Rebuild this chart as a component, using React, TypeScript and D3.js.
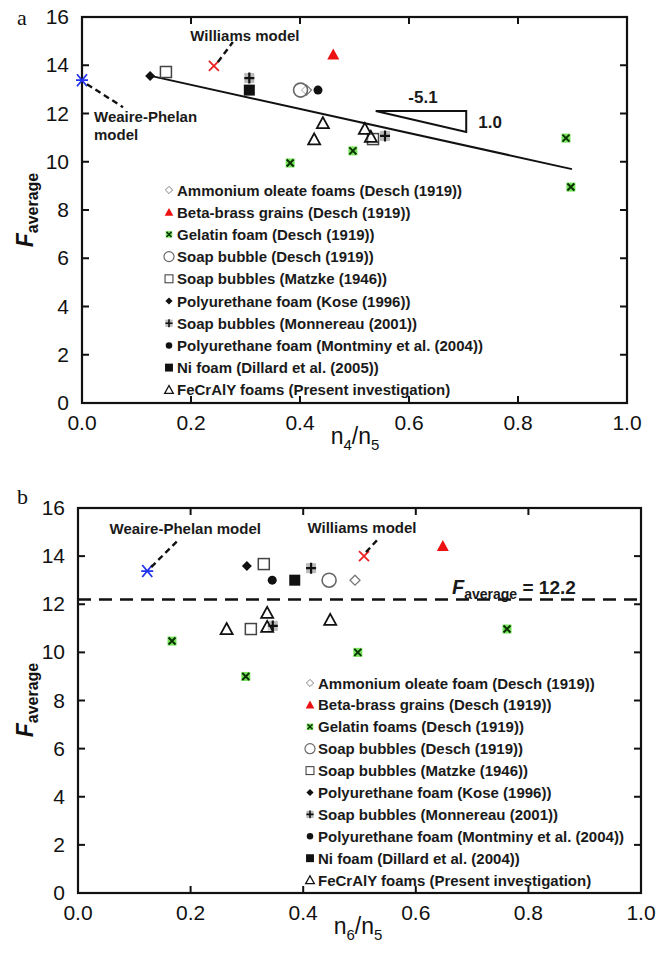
import React from "react";
import * as d3 from "d3";

// ---------- data ----------
const xTicks = [0, 0.2, 0.4, 0.6, 0.8, 1.0];
const yTicks = [0, 2, 4, 6, 8, 10, 12, 14, 16];

const legendA = [
  "Ammonium oleate foams (Desch (1919))",
  "Beta-brass grains (Desch (1919))",
  "Gelatin foam (Desch (1919))",
  "Soap bubble (Desch (1919))",
  "Soap bubbles (Matzke (1946))",
  "Polyurethane foam (Kose (1996))",
  "Soap bubbles (Monnereau (2001))",
  "Polyurethane foam (Montminy et al. (2004))",
  "Ni foam (Dillard et al. (2005))",
  "FeCrAlY foams (Present investigation)",
];
const legendB = [
  "Ammonium oleate foam (Desch (1919))",
  "Beta-brass grains (Desch (1919))",
  "Gelatin foams (Desch (1919))",
  "Soap bubbles (Desch (1919))",
  "Soap bubbles (Matzke (1946))",
  "Polyurethane foam (Kose (1996))",
  "Soap bubbles (Monnereau (2001))",
  "Polyurethane foam (Montminy et al. (2004))",
  "Ni foam (Dillard et al. (2004))",
  "FeCrAlY foams (Present investigation)",
];
const seriesKeys = ["ammonium", "beta", "gelatin", "soapDesch", "matzke", "kose", "monnereau", "montminy", "ni", "fecraly"];

// panel a: n4/n5
const aAmmonium = [[0.412, 12.97]];
const aBeta = [[0.461, 14.45]];
const aGelatin = [[0.382, 9.95], [0.497, 10.45], [0.888, 10.98], [0.897, 8.95]];
const aSoapDesch = [[0.401, 12.97]];
const aMatzke = [[0.154, 13.72], [0.534, 10.94]];
const aKose = [[0.125, 13.55]];
const aMonnereau = [[0.307, 13.47], [0.556, 11.07]];
const aMontminy = [[0.433, 12.97]];
const aNi = [[0.307, 12.97]];
const aFecraly = [[0.442, 11.6], [0.426, 10.93], [0.519, 11.36], [0.53, 11.03]];
const aWeaire = [0.0, 13.38];
const aWilliams = [0.242, 13.97];
const aFitRange = [0.128, 0.899];
const aFitSlope = -5.0;
const aFitIntercept = 14.19;
const aSlopeTri = [[0.539, 12.1], [0.705, 12.1], [0.705, 11.23]];

// panel b: n6/n5
const bAmmonium = [[0.492, 13.0]];
const bBeta = [[0.648, 14.42]];
const bGelatin = [[0.167, 10.47], [0.298, 9.0], [0.497, 10.0], [0.762, 10.97]];
const bSoapDesch = [[0.446, 13.0]];
const bMatzke = [[0.33, 13.67], [0.307, 10.97]];
const bKose = [[0.3, 13.59]];
const bMonnereau = [[0.414, 13.5], [0.346, 11.1]];
const bMontminy = [[0.345, 13.0]];
const bNi = [[0.385, 13.0]];
const bFecraly = [[0.336, 11.64], [0.264, 10.97], [0.336, 11.06], [0.448, 11.35]];
const bWeaire = [0.123, 13.38];
const bWilliams = [0.508, 14.0];
const bAverage = 12.2;

const FONT = "'Liberation Sans', Arial, sans-serif";

// ---------- markers ----------
function Marker({ type, x, y, s = 1 }: { type: string; x: number; y: number; s?: number }) {
  const t = `translate(${x},${y}) scale(${s})`;
  switch (type) {
    case "ammonium":
      return <path transform={t} d="M0,-5 L5,0 L0,5 L-5,0Z" fill="white" stroke="#777" strokeWidth={1.3} />;
    case "beta":
      return <path transform={t} d="M0,-6 L6,5 L-6,5Z" fill="#ee1111" />;
    case "gelatin":
      return (
        <g transform={t}>
          <rect x={-4.5} y={-4.5} width={9} height={9} fill="#55dd33" opacity={0.8} />
          <path d="M-3.5,-3.5 L3.5,3.5 M3.5,-3.5 L-3.5,3.5" stroke="#0a3300" strokeWidth={2} />
        </g>
      );
    case "soapDesch":
      return <circle transform={t} r={7} fill="white" fillOpacity={0.6} stroke="#666" strokeWidth={1.6} />;
    case "matzke":
      return <rect transform={t} x={-5.5} y={-5.5} width={11} height={11} fill="white" fillOpacity={0.5} stroke="#444" strokeWidth={1.5} />;
    case "kose":
      return <path transform={t} d="M0,-5 L5,0 L0,5 L-5,0Z" fill="#111" />;
    case "monnereau":
      return (
        <g transform={t}>
          <rect x={-5} y={-5} width={10} height={10} fill="#bbb" />
          <path d="M-5,0 L5,0 M0,-5.5 L0,5.5" stroke="#111" strokeWidth={2.2} />
        </g>
      );
    case "montminy":
      return <circle transform={t} r={4.5} fill="#111" />;
    case "ni":
      return <rect transform={t} x={-5.5} y={-5.5} width={11} height={11} fill="#111" />;
    case "fecraly":
      return <path transform={t} d="M0,-6 L6,5 L-6,5Z" fill="white" fillOpacity={0.3} stroke="#111" strokeWidth={1.8} />;
    default:
      return null;
  }
}

function Asterisk({ x, y, color }: { x: number; y: number; color: string }) {
  return (
    <path
      d={`M${x - 5},${y - 6} L${x + 5},${y + 6} M${x + 5},${y - 6} L${x - 5},${y + 6} M${x - 6},${y} L${x + 6},${y}`}
      stroke={color}
      strokeWidth={1.8}
    />
  );
}
function Cross({ x, y, color }: { x: number; y: number; color: string }) {
  return <path d={`M${x - 5},${y - 5} L${x + 5},${y + 5} M${x + 5},${y - 5} L${x - 5},${y + 5}`} stroke={color} strokeWidth={1.8} />;
}

function Frame({ xs, ys }: { xs: d3.ScaleLinear<number, number>; ys: d3.ScaleLinear<number, number> }) {
  const [x0, x1] = xs.range();
  const [y0, y1] = ys.range();
  const tl = 7;
  return (
    <g>
      {xTicks.map((t) => (
        <g key={"x" + t}>
          <line x1={xs(t)} x2={xs(t)} y1={y0} y2={y0 - tl} stroke="#111" strokeWidth={2} />
          <line x1={xs(t)} x2={xs(t)} y1={y1} y2={y1 + tl} stroke="#111" strokeWidth={2} />
          <text x={xs(t)} y={y0 + 27} textAnchor="middle" fontSize={21} fontFamily={FONT} fill="#111">
            {d3.format(".1f")(t)}
          </text>
        </g>
      ))}
      {yTicks.map((t) => (
        <g key={"y" + t}>
          <line x1={x0} x2={x0 + tl} y1={ys(t)} y2={ys(t)} stroke="#111" strokeWidth={2} />
          <line x1={x1} x2={x1 - tl} y1={ys(t)} y2={ys(t)} stroke="#111" strokeWidth={2} />
          <text x={x0 - 13} y={ys(t) + 7} textAnchor="end" fontSize={21} fontFamily={FONT} fill="#111">
            {t}
          </text>
        </g>
      ))}
      <rect x={x0} y={y1} width={x1 - x0} height={y0 - y1} fill="none" stroke="#111" strokeWidth={2.2} />
    </g>
  );
}

function Legend({ labels, x, y, dy }: { labels: string[]; x: number; y: number; dy: number }) {
  return (
    <g>
      {labels.map((l, i) => (
        <g key={l}>
          <Marker type={seriesKeys[i]} x={x} y={y + i * dy} s={0.72} />
          <text x={x + 8} y={y + i * dy + 5.5} fontSize={15} fontWeight="bold" fontFamily={FONT} fill="#1a1a1a">
            {l}
          </text>
        </g>
      ))}
    </g>
  );
}

function Points({ sets, xs, ys }: { sets: number[][][]; xs: any; ys: any }) {
  return (
    <g>
      {sets.map((pts, i) =>
        pts.map((p, j) => <Marker key={i + "-" + j} type={seriesKeys[i]} x={xs(p[0])} y={ys(p[1])} />)
      )}
    </g>
  );
}

function YTitle({ x, y }: { x: number; y: number }) {
  return (
    <text transform={`translate(${x},${y}) rotate(-90)`} textAnchor="middle" fontFamily={FONT} fontWeight="bold" fill="#111">
      <tspan fontSize={23} fontStyle="italic">F</tspan>
      <tspan fontSize={16} dy={5}>average</tspan>
    </text>
  );
}

function XTitle({ x, y, sub }: { x: number; y: number; sub: string }) {
  return (
    <text x={x} y={y} textAnchor="middle" fontFamily={FONT} fontSize={23} fill="#111">
      <tspan>n</tspan>
      <tspan fontSize={15} dy={6}>{sub}</tspan>
      <tspan dy={-6}>/n</tspan>
      <tspan fontSize={15} dy={6}>5</tspan>
    </text>
  );
}

export default function App() {
  const xa = d3.scaleLinear().domain([0, 1]).range([82, 627]);
  const ya = d3.scaleLinear().domain([0, 16]).range([403, 17]);
  const xb = d3.scaleLinear().domain([0, 1]).range([78, 641]);
  const yb = d3.scaleLinear().domain([0, 16]).range([893, 508]);

  const setsA = [aAmmonium, aBeta, aGelatin, aSoapDesch, aMatzke, aKose, aMonnereau, aMontminy, aNi, aFecraly];
  const setsB = [bAmmonium, bBeta, bGelatin, bSoapDesch, bMatzke, bKose, bMonnereau, bMontminy, bNi, bFecraly];

  const fit = d3.line<number>().x((d) => xa(d)).y((d) => ya(aFitIntercept + aFitSlope * d));
  const tri = d3.line<number[]>().x((d) => xa(d[0])).y((d) => ya(d[1]));

  const wpA = [xa(aWeaire[0]), ya(aWeaire[1])];
  const wiA = [xa(aWilliams[0]), ya(aWilliams[1])];
  const wpB = [xb(bWeaire[0]), yb(bWeaire[1])];
  const wiB = [xb(bWilliams[0]), yb(bWilliams[1])];
  const bold = { fontFamily: FONT, fontWeight: "bold" as const, fill: "#1a1a1a" };

  return (
    <svg width={665} height={954} style={{ position: "absolute", left: 0, top: 0, background: "white" }}>
      <rect width={665} height={954} fill="white" />
      {/* ---------- panel a ---------- */}
      <text x={17} y={25} fontFamily="'Liberation Serif', 'Times New Roman', serif" fontSize={22} fill="#111">a</text>
      <Frame xs={xa} ys={ya} />
      <YTitle x={33} y={210} />
      <XTitle x={355} y={444} sub="4" />
      <path d={fit(aFitRange) || ""} fill="none" stroke="#111" strokeWidth={2} />
      <path d={(tri(aSlopeTri) || "") + "Z"} fill="none" stroke="#111" strokeWidth={2} />
      <text x={(xa(aSlopeTri[0][0]) + xa(aSlopeTri[1][0])) / 2 + 2} y={ya(aSlopeTri[0][1]) - 8} textAnchor="middle" fontSize={17} {...bold}>-5.1</text>
      <text x={xa(aSlopeTri[1][0]) + 12} y={(ya(aSlopeTri[1][1]) + ya(aSlopeTri[2][1])) / 2 + 6} fontSize={17} {...bold}>1.0</text>
      <Points sets={setsA} xs={xa} ys={ya} />
      <Asterisk x={wpA[0]} y={wpA[1]} color="#2233ee" />
      <Cross x={wiA[0]} y={wiA[1]} color="#ee2222" />
      <line x1={wpA[0] + 5} y1={wpA[1] + 4} x2={wpA[0] + 41} y2={wpA[1] + 27} stroke="#111" strokeWidth={2.4} strokeDasharray="6,4" />
      <line x1={wiA[0] + 4} y1={wiA[1] - 4} x2={wiA[0] + 19} y2={wiA[1] - 24} stroke="#111" strokeWidth={2.4} strokeDasharray="6,4" />
      <text x={wpA[0] + 12} y={wpA[1] + 42} fontSize={15} {...bold}>Weaire-Phelan</text>
      <text x={wpA[0] + 12} y={wpA[1] + 60} fontSize={15} {...bold}>model</text>
      <text x={wiA[0] + 31} y={wiA[1] - 25} textAnchor="middle" fontSize={15} {...bold}>Williams model</text>
      <Legend labels={legendA} x={169} y={190} dy={22.2} />

      {/* ---------- panel b ---------- */}
      <text x={17} y={504} fontFamily="'Liberation Serif', 'Times New Roman', serif" fontSize={22} fill="#111">b</text>
      <Frame xs={xb} ys={yb} />
      <YTitle x={33} y={700} />
      <XTitle x={358} y={934} sub="6" />
      <line x1={xb(0)} x2={xb(1)} y1={yb(bAverage)} y2={yb(bAverage)} stroke="#111" strokeWidth={2.6} strokeDasharray="13,8" />
      <text x={452} y={594} {...bold} fontSize={19}>
        <tspan fontStyle="italic" fontSize={20}>F</tspan>
        <tspan fontSize={14} dy={5}>average</tspan>
        <tspan dy={-5}> = 12.2</tspan>
      </text>
      <Points sets={setsB} xs={xb} ys={yb} />
      <Asterisk x={wpB[0]} y={wpB[1]} color="#2233ee" />
      <Cross x={wiB[0]} y={wiB[1]} color="#ee2222" />
      <line x1={wpB[0] + 4} y1={wpB[1] - 4} x2={wpB[0] + 30} y2={wpB[1] - 30} stroke="#111" strokeWidth={2.4} strokeDasharray="6,4" />
      <line x1={wiB[0] + 2} y1={wiB[1] - 4} x2={wiB[0] + 15} y2={wiB[1] - 18} stroke="#111" strokeWidth={2.4} strokeDasharray="6,4" />
      <text x={wpB[0] + 38} y={wpB[1] - 37} textAnchor="middle" fontSize={15} {...bold}>Weaire-Phelan model</text>
      <text x={wiB[0] - 2} y={wiB[1] - 23} textAnchor="middle" fontSize={15} {...bold}>Williams model</text>
      <Legend labels={legendB} x={310} y={683} dy={21.9} />
    </svg>
  );
}
